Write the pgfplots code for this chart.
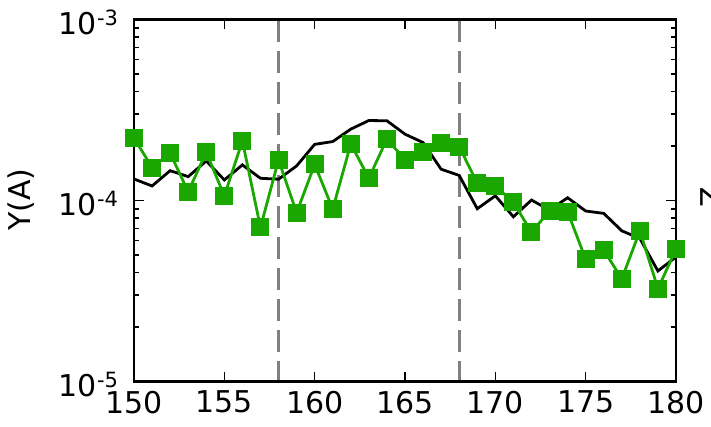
\documentclass[border=0pt]{standalone}
\usepackage{fontspec}
\setmainfont{DejaVu Sans}
\usepackage{pgfplots}
\pgfplotsset{compat=1.18}

\definecolor{seriesgreen}{RGB}{26,168,0}
\definecolor{guidegray}{RGB}{128,128,128}

% measured series: x, value
\pgfplotstableread{
x    y
150  2.219e-4
151  1.519e-4
152  1.826e-4
153  1.119e-4
154  1.849e-4
155  1.059e-4
156  2.136e-4
157  7.10e-5
158  1.677e-4
159  8.56e-5
160  1.583e-4
161  8.97e-5
162  2.056e-4
163  1.327e-4
164  2.191e-4
165  1.677e-4
166  1.864e-4
167  2.09e-4
168  1.986e-4
169  1.245e-4
170  1.203e-4
171  9.77e-5
172  6.69e-5
173  8.75e-5
174  8.67e-5
175  4.74e-5
176  5.32e-5
177  3.69e-5
178  6.80e-5
179  3.26e-5
180  5.38e-5
}\measured

% reference curve: x, value
\pgfplotstableread{
x    y
150  1.315e-4
151  1.203e-4
152  1.462e-4
153  1.355e-4
154  1.655e-4
155  1.299e-4
156  1.573e-4
157  1.327e-4
158  1.311e-4
159  1.553e-4
160  2.043e-4
161  2.117e-4
162  2.480e-4
163  2.767e-4
164  2.757e-4
165  2.326e-4
166  2.09e-4
167  1.489e-4
168  1.376e-4
169  9.01e-5
170  1.062e-4
171  8.13e-5
172  1.006e-4
173  8.86e-5
174  1.036e-4
175  8.75e-5
176  8.49e-5
177  6.80e-5
178  6.17e-5
179  4.08e-5
180  4.88e-5
}\reference

\begin{document}
\begin{tikzpicture}
\path[use as bounding box] (0,0) rectangle (711pt,426pt);
\clip (0,0) rectangle (711pt,426pt);
\begin{axis}[
  at={(134pt,44.5pt)}, anchor=south west,
  scale only axis, width=542pt, height=362pt,
  xmin=150, xmax=180,
  ymode=log, ymin=1e-5, ymax=1e-3,
  xtick={150,155,...,180},
  ytick={1e-5,1e-4,1e-3},
  yticklabels={10\textsuperscript{-5},10\textsuperscript{-4},10\textsuperscript{-3}},
  tick align=inside,
  major tick length=10pt, minor tick length=5pt,
  every tick/.style={black, line width=1.5pt},
  axis line style={line width=2.5pt},
  axis on top,
  tick label style={font=\fontsize{30}{36}\selectfont},
  /pgf/number format/assume math mode=true,
  /pgf/number format/1000 sep={},
  yticklabel style={xshift=-12pt, yshift=-3pt},
  xticklabel style={yshift=-6pt},
  ylabel={Y(A)},
  ylabel style={at={(axis description cs:-0.208,0.503)}, anchor=center,
    font=\fontsize{30}{36}\selectfont},
]
\addplot[guidegray, line width=3pt, dash pattern=on 22pt off 9pt] coordinates {(158,1e-3) (158,1e-5)};
\addplot[guidegray, line width=3pt, dash pattern=on 22pt off 9pt] coordinates {(168,1e-3) (168,1e-5)};
\addplot[black, line width=2.8pt, no marks] table[x=x, y=y] {\reference};
\addplot[seriesgreen, line width=2.8pt, mark=square*, mark size=8.5pt,
  mark options={solid, fill=seriesgreen, draw=seriesgreen, line width=0pt}] table[x=x, y=y] {\measured};
\end{axis}
\node[rotate=90, anchor=north west, inner sep=0pt, font=\fontsize{30}{36}\selectfont] at (700pt,218pt) {Z};
\end{tikzpicture}
\end{document}
